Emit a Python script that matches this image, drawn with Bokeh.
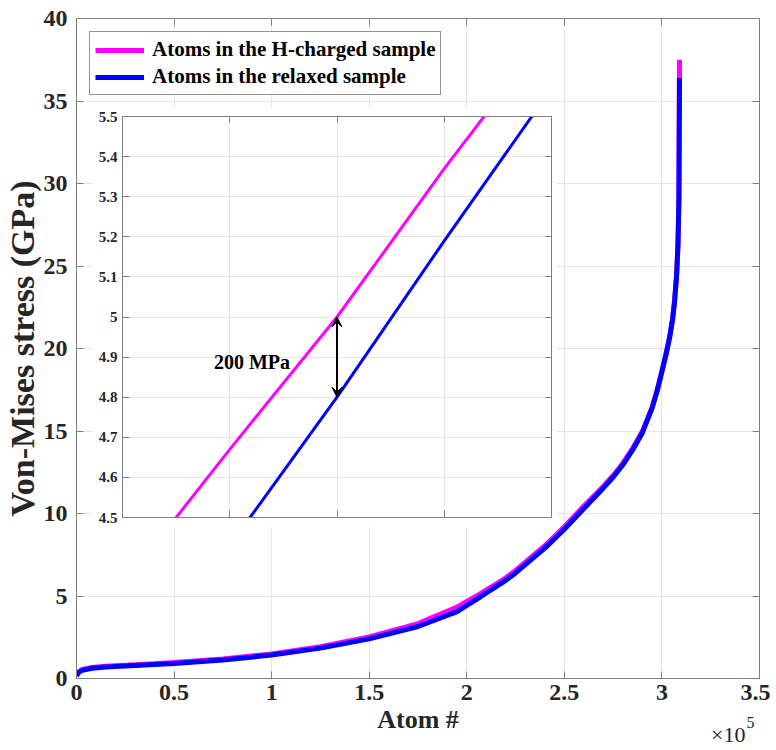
from bokeh.plotting import figure
from bokeh.models import (ColumnDataSource, FixedTicker, NumeralTickFormatter, Legend, LegendItem,
                          LinearAxis, Arrow, VeeHead, Label, Range1d, CustomJSTickFormatter)
from bokeh.layouts import column
from bokeh.embed import file_html
from bokeh.resources import INLINE

# ---------------- data (atom index in units of 1e5, stress in GPa) ----------------
atom_index = [0.0, 0.01, 0.03, 0.08, 0.15, 0.25, 0.4, 0.5, 0.75, 1.0, 1.25, 1.5, 1.75,
              1.95, 2.0, 2.05, 2.1, 2.15, 2.2, 2.25, 2.3, 2.4, 2.5, 2.6, 2.7, 2.75, 2.8,
              2.85, 2.9, 2.95, 2.975, 3.0, 3.02, 3.04, 3.055, 3.065, 3.075, 3.082, 3.087, 3.09]
stress_h_charged = [0.2, 0.4, 0.55, 0.67, 0.75, 0.81, 0.9, 0.97, 1.18, 1.49, 1.93, 2.52, 3.33,
                    4.33, 4.67, 5.0, 5.37, 5.72, 6.1, 6.55, 7.05, 8.05, 9.2, 10.45, 11.65,
                    12.3, 13.05, 13.95, 14.98, 16.45, 17.45, 18.63, 19.62, 20.72, 21.82,
                    22.92, 24.42, 26.22, 29.0, 37.5]
stress_relaxed = [0.15, 0.35, 0.5, 0.62, 0.7, 0.76, 0.85, 0.91, 1.12, 1.42, 1.84, 2.4, 3.15,
                  4.05, 4.43, 4.8, 5.19, 5.57, 5.95, 6.4, 6.9, 7.9, 9.05, 10.3, 11.55,
                  12.2, 12.95, 13.85, 14.9, 16.4, 17.4, 18.6, 19.6, 20.7, 21.8,
                  22.9, 24.4, 26.2, 29.0, 36.4]

series_names = ["Atoms in the H-charged sample", "Atoms in the relaxed sample"]
x_ticks = [0, 0.5, 1, 1.5, 2, 2.5, 3, 3.5]
y_ticks = [0, 5, 10, 15, 20, 25, 30, 35, 40]
inset_x_ticks = [1.95, 2.0, 2.05, 2.1, 2.15]
inset_y_ticks = [4.5, 4.6, 4.7, 4.8, 4.9, 5.0, 5.1, 5.2, 5.3, 5.4, 5.5]
arrow_atom = 2.05
arrow_text = "200 MPa"
x_multiplier = "×10"
x_exponent = "5"

FONT = "Liberation Serif"
AX = "#7f7f7f"
TXT = "#262626"
GRID = "#e6e6e6"
MAGENTA = "#FF00FF"
BLUE = "#0000FF"

W, H = 770, 748

src = ColumnDataSource(dict(atom=atom_index, h=stress_h_charged, r=stress_relaxed))
blank = CustomJSTickFormatter(code="return ''")


def style_axis(ax, size, standoff):
    ax.major_label_text_font = FONT
    ax.major_label_text_font_style = "bold"
    ax.major_label_text_font_size = size
    ax.major_label_text_color = TXT
    ax.major_label_standoff = standoff
    ax.axis_line_color = AX
    ax.major_tick_line_color = AX
    ax.major_tick_in = 7
    ax.major_tick_out = 0
    ax.minor_tick_line_color = None
    ax.formatter = NumeralTickFormatter(format="0.[00]")


def hidden_axis(ticks, tick_len):
    ax = LinearAxis(ticker=FixedTicker(ticks=ticks), formatter=blank)
    ax.major_label_text_font_size = "10px"
    ax.major_label_standoff = 0
    ax.axis_line_color = AX
    ax.major_tick_line_color = AX
    ax.major_tick_in = tick_len
    ax.major_tick_out = 0
    ax.minor_tick_line_color = None
    return ax


# ---------------- main plot ----------------
p = figure(width=W, height=H, x_range=Range1d(0, 3.5), y_range=Range1d(0, 40),
           output_backend="svg", toolbar_location=None, frame_align=False,
           min_border_left=75, min_border_top=18, min_border_right=W - 759,
           min_border_bottom=H - 678,
           x_axis_label="Atom #", y_axis_label="Von-Mises stress (GPa)")
p.xaxis.ticker = FixedTicker(ticks=x_ticks)
p.yaxis.ticker = FixedTicker(ticks=y_ticks)
style_axis(p.xaxis[0], "24px", 6)
style_axis(p.yaxis[0], "24px", 9)
for ax in (p.xaxis[0], p.yaxis[0]):
    ax.axis_label_text_font = FONT
    ax.axis_label_text_font_style = "bold"
    ax.axis_label_text_color = TXT
p.xaxis.axis_label_text_font_size = "26px"
p.yaxis.axis_label_text_font_size = "34px"
p.xaxis.axis_label_standoff = 2
p.yaxis.axis_label_standoff = 0
p.add_layout(hidden_axis(y_ticks, 7), "right")
p.add_layout(hidden_axis(x_ticks, 7), "above")
p.xgrid.ticker = FixedTicker(ticks=x_ticks)
p.ygrid.ticker = FixedTicker(ticks=y_ticks)
p.xgrid.grid_line_color = GRID
p.ygrid.grid_line_color = GRID
p.outline_line_color = AX

rh = p.line("atom", "h", source=src, line_color=MAGENTA, line_width=5)
rr = p.line("atom", "r", source=src, line_color=BLUE, line_width=5)

legend = Legend(items=[LegendItem(label=series_names[0], renderers=[rh]),
                       LegendItem(label=series_names[1], renderers=[rr])],
                location="top_left", margin=13, padding=5, spacing=2,
                glyph_width=49, glyph_height=22, label_height=22, label_standoff=8,
                label_text_font=FONT, label_text_font_style="bold", label_text_font_size="21px",
                label_text_color="#000000",
                border_line_color=TXT, border_line_width=1, background_fill_alpha=1)
p.add_layout(legend)

# ---------------- inset (absolutely positioned over the main plot) ----------------
q = figure(frame_width=429, frame_height=401,
           x_range=Range1d(inset_x_ticks[0], inset_x_ticks[-1]),
           y_range=Range1d(inset_y_ticks[0], inset_y_ticks[-1]),
           output_backend="svg", toolbar_location=None, frame_align=False,
           min_border_left=30, min_border_right=6, min_border_top=8, min_border_bottom=10,
           styles={"position": "absolute", "left": "92px", "top": "108px"})
q.xaxis.ticker = FixedTicker(ticks=inset_x_ticks)
q.yaxis.ticker = FixedTicker(ticks=inset_y_ticks)
style_axis(q.yaxis[0], "15px", 5)
style_axis(q.xaxis[0], "10px", 0)
q.xaxis.formatter = blank
q.add_layout(hidden_axis(inset_y_ticks, 6), "right")
q.add_layout(hidden_axis(inset_x_ticks, 6), "above")
q.xgrid.ticker = FixedTicker(ticks=inset_x_ticks)
q.ygrid.ticker = FixedTicker(ticks=inset_y_ticks)
q.xgrid.grid_line_color = GRID
q.ygrid.grid_line_color = GRID
q.outline_line_color = AX
q.background_fill_color = "white"
q.border_fill_color = "white"

q.line("atom", "h", source=src, line_color=MAGENTA, line_width=3)
q.line("atom", "r", source=src, line_color=BLUE, line_width=3)

i = atom_index.index(arrow_atom)
y_lo, y_hi = stress_relaxed[i], stress_h_charged[i]
q.add_layout(Arrow(start=VeeHead(size=10, fill_color="black", line_color="black", line_width=1),
                   end=VeeHead(size=10, fill_color="black", line_color="black", line_width=1),
                   x_start=arrow_atom, y_start=y_lo, x_end=arrow_atom, y_end=y_hi,
                   line_color="black", line_width=2))
q.add_layout(Label(x=arrow_atom, y=(y_lo + y_hi) / 2, x_offset=-47, y_offset=-5, text=arrow_text,
                   text_align="right", text_baseline="middle", text_font=FONT,
                   text_font_style="bold", text_font_size="20px", text_color="#000000"))

# ---------------- x-axis multiplier "×10^5" (small overlay, anchored to the bottom) ----------------
r = figure(frame_width=66, frame_height=40, min_border=0,
           x_range=Range1d(0, 1), y_range=Range1d(0, 1),
           x_axis_location=None, y_axis_location=None,
           output_backend="svg", toolbar_location=None, frame_align=False,
           background_fill_alpha=0, border_fill_alpha=0, outline_line_color=None,
           styles={"position": "absolute", "left": "700px", "bottom": "0px"})
r.title.visible = False
r.xgrid.visible = False
r.ygrid.visible = False
r.add_layout(Label(x=45, y=14, x_units="screen", y_units="screen", text=x_multiplier,
                   text_align="right", text_baseline="middle", text_font=FONT,
                   text_font_size="22px", text_color=TXT))
r.add_layout(Label(x=46, y=26, x_units="screen", y_units="screen", text=x_exponent,
                   text_align="left", text_baseline="middle", text_font=FONT,
                   text_font_size="16px", text_color=TXT))

layout = column(p, q, r)
open("out.html", "w").write(file_html(layout, INLINE))
